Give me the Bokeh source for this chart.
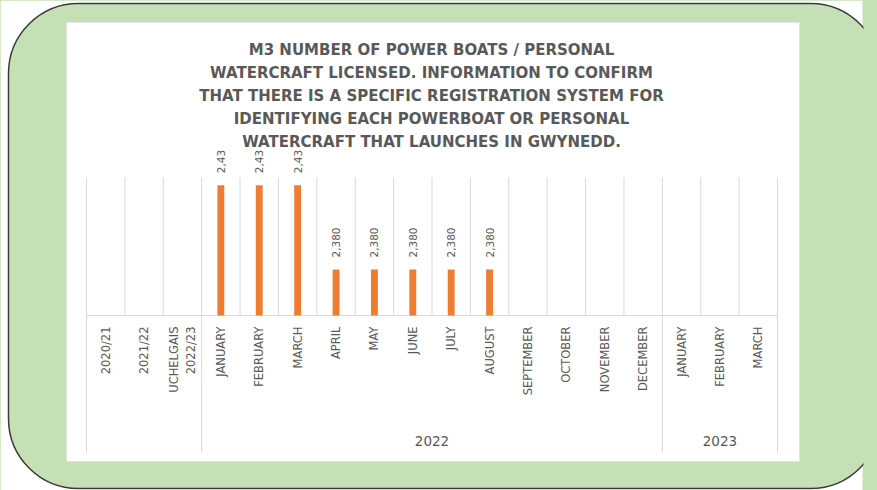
import math
from bokeh.plotting import figure
from bokeh.models import (FactorRange, Range1d, Label, LabelSet, ColumnDataSource)
from bokeh.core.properties import value
from bokeh.embed import file_html
from bokeh.resources import INLINE

# ---------------- data ----------------
title_lines = [
    "M3 NUMBER OF POWER BOATS / PERSONAL",
    "WATERCRAFT LICENSED. INFORMATION TO CONFIRM",
    "THAT THERE IS A SPECIFIC REGISTRATION SYSTEM FOR",
    "IDENTIFYING EACH POWERBOAT OR PERSONAL",
    "WATERCRAFT THAT LAUNCHES IN GWYNEDD.",
]
periods = ["2020/21", "2021/22", "UCHELGAIS\n2022/23"]
months_2022 = ["JANUARY", "FEBRUARY", "MARCH", "APRIL", "MAY", "JUNE", "JULY",
               "AUGUST", "SEPTEMBER", "OCTOBER", "NOVEMBER", "DECEMBER"]
months_2023 = ["JANUARY", "FEBRUARY", "MARCH"]
groups = ["", "2022", "2023"]

values_periods = [None, None, None]
values_2022 = [2435, 2435, 2435, 2380, 2380, 2380, 2380, 2380,
               None, None, None, None]
values_2023 = [None, None, None]
labels_2022 = ["2,43", "2,43", "2,43", "2,380", "2,380", "2,380", "2,380", "2,380",
               None, None, None, None]

y_start, y_end = 2350, 2440   # value axis extent of the plot area

# ---------------- layout (page pixels) ----------------
W, H = 877, 490
PLOT_L, PLOT_R = 86, 777          # category span
PLOT_T, PLOT_B = 177, 315         # value span
FRAME_W = PLOT_R + PLOT_L         # symmetric frame around the category span

TEXT = "#595959"
GRID = "#d9d9d9"
BAR = "#ed7d31"
GREEN = "#c5e0b4"
FONT = "DejaVu Sans"

factors = ([("", p) for p in periods] +
           [("2022", m) for m in months_2022] +
           [("2023", m) for m in months_2023])
n = len(factors)
upp = (y_end - y_start) / (PLOT_B - PLOT_T)
cpp = n / (PLOT_R - PLOT_L)


def yv(py):
    """page pixel row -> value"""
    return y_start + (PLOT_B - py) * upp


def xs(px):
    """page pixel column -> category coordinate"""
    return (px - PLOT_L) * cpp


def sy(py):
    """page pixel row -> screen units (from frame bottom)"""
    return H - py


all_values = values_periods + values_2022 + values_2023
all_labels = [None] * len(periods) + labels_2022 + [None] * len(months_2023)

bar_x = [f for f, v in zip(factors, all_values) if v is not None]
bar_top = [v for v in all_values if v is not None]
bar_lab = [l for l, v in zip(all_labels, all_values) if v is not None]
src = ColumnDataSource(dict(x=bar_x, top=bar_top, label=bar_lab))

x_range = FactorRange(*factors, factor_padding=0, group_padding=0,
                      subgroup_padding=0, range_padding=PLOT_L * cpp,
                      range_padding_units="absolute")

p = figure(width=W, height=H, x_range=x_range,
           y_range=Range1d(yv(H), yv(0)), output_backend="svg",
           toolbar_location=None, title=None,
           min_border_left=0, min_border_right=W - FRAME_W,
           min_border_top=0, min_border_bottom=0,
           border_fill_color=GREEN, background_fill_color=GREEN,
           outline_line_color=None)
p.styles = {"background-color": GREEN}
p.yaxis.visible = False
p.xgrid.visible = False
p.ygrid.visible = False

# ---- decorative background: page white, rounded green panel, white chart area ----
p.quad(left=xs(0), right=xs(FRAME_W - 1), top=yv(0), bottom=yv(H),
       fill_color="white", line_color=None, level="image")
p.quad(left=xs(8), right=xs(880), top=yv(3), bottom=yv(488),
       fill_color=GREEN, line_color="#3a3a3a", line_width=1.5,
       border_radius=70, level="image")
p.quad(left=xs(66), right=xs(799), top=yv(22), bottom=yv(461),
       fill_color="white", line_color="#e3e3e3", line_width=1, level="image")

# ---- gridlines at category boundaries ----
bounds = list(range(n + 1))
p.segment(x0=bounds, x1=bounds, y0=[y_start] * len(bounds), y1=[y_end] * len(bounds),
          line_color=GRID, line_width=1, level="underlay")

# ---- axis baseline across the categories ----
p.segment(x0=[0], x1=[n], y0=[y_start], y1=[y_start],
          line_color=GRID, line_width=1, level="underlay")

# ---- group separators below the axis ----
sizes = [len(periods), len(months_2022), len(months_2023)]
edges = [0]
for s in sizes:
    edges.append(edges[-1] + s)
p.segment(x0=edges, x1=edges, y0=[y_start] * len(edges), y1=[yv(452)] * len(edges),
          line_color=GRID, line_width=1, level="underlay")

# ---- bars ----
p.vbar(x="x", top="top", bottom=y_start, width=0.18, source=src,
       fill_color=BAR, line_color=None)

# ---- data labels ----
p.add_layout(LabelSet(x="x", y="top", text="label", source=src, angle=math.pi / 2,
                      text_align="left", text_baseline="middle", y_offset=12,
                      text_font=value(FONT), text_font_size="10.5px",
                      text_color=TEXT))

# ---- category axis, drawn at the bottom of the plot area ----
ax = p.xaxis[0]
ax.fixed_location = y_start
ax.axis_line_color = None
ax.major_tick_line_color = None
ax.minor_tick_line_color = None
ax.major_tick_out = 0
ax.major_tick_in = 0
ax.major_label_standoff = 11
ax.major_label_orientation = math.pi / 2
ax.major_label_text_font = FONT
ax.major_label_text_font_size = "11.5px"
ax.major_label_text_color = TEXT
ax.group_text_color = None
ax.separator_line_color = None

# ---- group labels ----
for g, a, b in zip(groups, edges[:-1], edges[1:]):
    if g:
        p.add_layout(Label(x=(a + b) / 2, y=sy(440), y_units="screen", text=g,
                           text_align="center", text_baseline="middle",
                           text_font=FONT, text_font_size="13.5px",
                           text_color=TEXT))

# ---- title ----
for i, line in enumerate(title_lines):
    p.add_layout(Label(x=431, y=sy(49 + 23 * i), x_units="screen", y_units="screen",
                       text=line, text_align="center", text_baseline="middle",
                       text_font=FONT, text_font_size="15px",
                       text_font_style="bold", text_color=TEXT))

open("out.html", "w").write(file_html(p, INLINE))
